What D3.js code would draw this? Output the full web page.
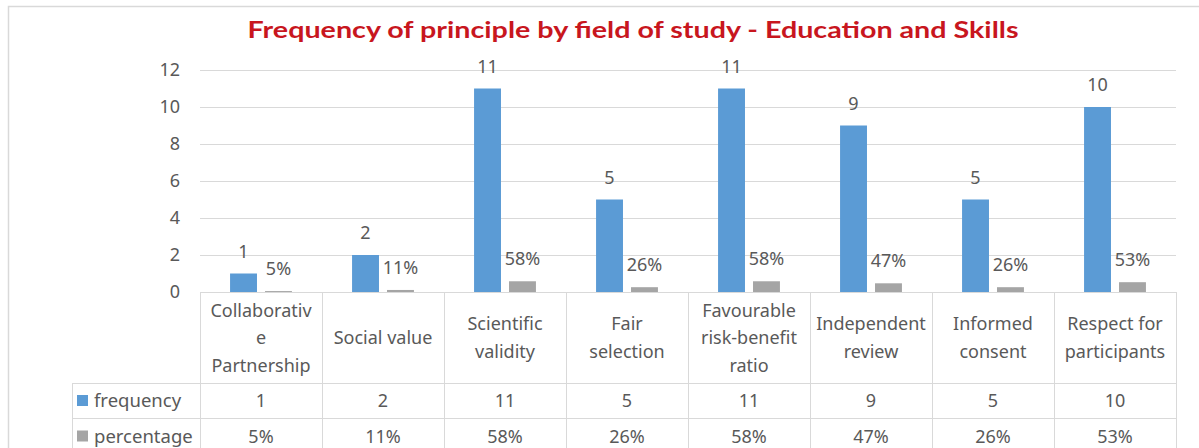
<!DOCTYPE html>
<html>
<head>
<meta charset="utf-8">
<script src="https://cdn.jsdelivr.net/npm/d3@7"></script>
<style>
  html, body { margin: 0; padding: 0; background: #ffffff; }
  svg { display: block; }
</style>
</head>
<body>
<svg id="chart" width="1199" height="448"></svg>
<script>
// ---- data ----
const title = "Frequency of principle by field of study - Education and Skills";
const categories = [
  "Collaborative Partnership", "Social value", "Scientific validity", "Fair selection",
  "Favourable risk-benefit ratio", "Independent review", "Informed consent", "Respect for participants"
];
const categoryLines = [
  ["Collaborativ", "e", "Partnership"],
  ["Social value"],
  ["Scientific", "validity"],
  ["Fair", "selection"],
  ["Favourable", "risk-benefit", "ratio"],
  ["Independent", "review"],
  ["Informed", "consent"],
  ["Respect for", "participants"]
];
const seriesNames = ["frequency", "percentage"];
const frequency = [1, 2, 11, 5, 11, 9, 5, 10];
const percentage = [5, 11, 58, 26, 58, 47, 26, 53];
const yTicks = [0, 2, 4, 6, 8, 10, 12];

// ---- layout ----
const svg = d3.select("#chart");
const W = 1199, H = 448;
const plotLeft = 200, plotRight = 1176, plotTop = 70, plotBottom = 292;
const colors = { frequency: "#5B9BD5", percentage: "#A5A5A5" };
const gridColor = "#D9D9D9";
const textColor = "#595959";
const font = "'Noto Sans', 'Open Sans', sans-serif";
const fs = 18;

// outer frame
svg.append("rect")
  .attr("x", 8.5).attr("y", 6.5).attr("width", W + 10).attr("height", H + 10)
  .attr("fill", "#fff").attr("stroke", "#D9D9D9").attr("stroke-width", 1.5);

// title
svg.append("text")
  .attr("x", 633).attr("y", 38)
  .attr("text-anchor", "middle")
  .attr("font-family", "Lato, sans-serif")
  .attr("font-weight", "bold")
  .attr("font-size", 23)
  .attr("fill", "#C8161E")
  .attr("textLength", 771)
  .attr("lengthAdjust", "spacingAndGlyphs")
  .text(title);

const x = d3.scaleBand().domain(categories).range([plotLeft, plotRight]);
const x1 = d3.scaleBand().domain(seriesNames).range([0, x.bandwidth()])
  .paddingInner(0.23).paddingOuter(0.86);
const y = d3.scaleLinear().domain([0, 12]).range([plotBottom, plotTop]);

// gridlines + y labels
const yAxis = svg.append("g")
  .attr("transform", `translate(${plotLeft},0)`)
  .call(d3.axisLeft(y).tickValues(yTicks).tickSizeInner(-(plotRight - plotLeft)).tickSizeOuter(0).tickPadding(20));
yAxis.select(".domain").remove();
yAxis.selectAll(".tick line").attr("stroke", gridColor).attr("stroke-width", 1);
yAxis.selectAll(".tick text")
  .attr("fill", textColor).attr("font-family", font).attr("font-size", fs);

// bars
const rows = categories.map((c, i) => ({ cat: c, frequency: frequency[i], percentage: percentage[i] }));
const groups = svg.append("g").selectAll("g").data(rows).join("g")
  .attr("transform", d => `translate(${x(d.cat)},0)`);

const barVal = (d, s) => s === "frequency" ? d.frequency : d.percentage / 100;
const labelTxt = (d, s) => s === "frequency" ? String(d.frequency) : d.percentage + "%";

groups.selectAll("rect").data(d => seriesNames.map(s => ({ s, v: barVal(d, s), t: labelTxt(d, s) })))
  .join("rect")
  .attr("x", d => x1(d.s))
  .attr("width", x1.bandwidth())
  .attr("y", d => y(d.v))
  .attr("height", d => y(0) - y(d.v))
  .attr("fill", d => colors[d.s]);

groups.selectAll("text.lbl").data(d => seriesNames.map(s => ({ s, v: barVal(d, s), t: labelTxt(d, s) })))
  .join("text").attr("class", "lbl")
  .attr("x", d => x1(d.s) + x1.bandwidth() / 2)
  .attr("y", d => y(d.v) - 16)
  .attr("text-anchor", "middle")
  .attr("font-family", font).attr("font-size", fs)
  .attr("fill", textColor)
  .text(d => d.t);

// data table
const tableTop = plotBottom, headerBottom = 383, row1Bottom = 418, tableBottom = 470;
const rowHeaderLeft = 72;
const tbl = svg.append("g").attr("stroke", "#D9D9D9").attr("stroke-width", 1);
tbl.append("line").attr("x1", plotLeft).attr("x2", plotRight).attr("y1", tableTop + 0.5).attr("y2", tableTop + 0.5);
[headerBottom, row1Bottom].forEach(yy =>
  tbl.append("line").attr("x1", rowHeaderLeft).attr("x2", plotRight).attr("y1", yy + 0.5).attr("y2", yy + 0.5));
tbl.append("line").attr("x1", rowHeaderLeft + 0.5).attr("x2", rowHeaderLeft + 0.5).attr("y1", headerBottom).attr("y2", tableBottom);
categories.forEach(c => {
  tbl.append("line").attr("x1", x(c) + 0.5).attr("x2", x(c) + 0.5).attr("y1", tableTop).attr("y2", tableBottom);
});
tbl.append("line").attr("x1", plotRight + 0.5).attr("x2", plotRight + 0.5).attr("y1", tableTop).attr("y2", tableBottom);

// category header text
const lineH = 27.5;
const headerMid = (tableTop + headerBottom) / 2;
svg.append("g").selectAll("text").data(categories).join("text")
  .attr("font-family", font).attr("font-size", fs).attr("fill", textColor)
  .attr("text-anchor", "middle")
  .each(function (c, i) {
    const lines = categoryLines[i];
    const t = d3.select(this);
    const y0 = headerMid - (lines.length - 1) * lineH / 2 + 6.5;
    lines.forEach((ln, k) => {
      t.append("tspan").attr("x", x(c) + x.bandwidth() / 2).attr("y", y0 + k * lineH).text(ln);
    });
  });

// value rows
const rowMids = { frequency: (headerBottom + row1Bottom) / 2, percentage: 436 };
seriesNames.forEach(s => {
  const vals = s === "frequency" ? frequency.map(String) : percentage.map(p => p + "%");
  svg.append("g").selectAll("text").data(categories).join("text")
    .attr("x", c => x(c) + x.bandwidth() / 2)
    .attr("y", rowMids[s] + 6.5)
    .attr("text-anchor", "middle")
    .attr("font-family", font).attr("font-size", fs).attr("fill", textColor)
    .text((c, i) => vals[i]);
  svg.append("rect").attr("x", 77).attr("y", rowMids[s] - 5.5).attr("width", 11).attr("height", 11)
    .attr("fill", colors[s]);
  svg.append("text").attr("x", 94).attr("y", rowMids[s] + 6.5)
    .attr("font-family", font).attr("font-size", 18.5).attr("fill", textColor)
    .text(s);
});
</script>
</body>
</html>
